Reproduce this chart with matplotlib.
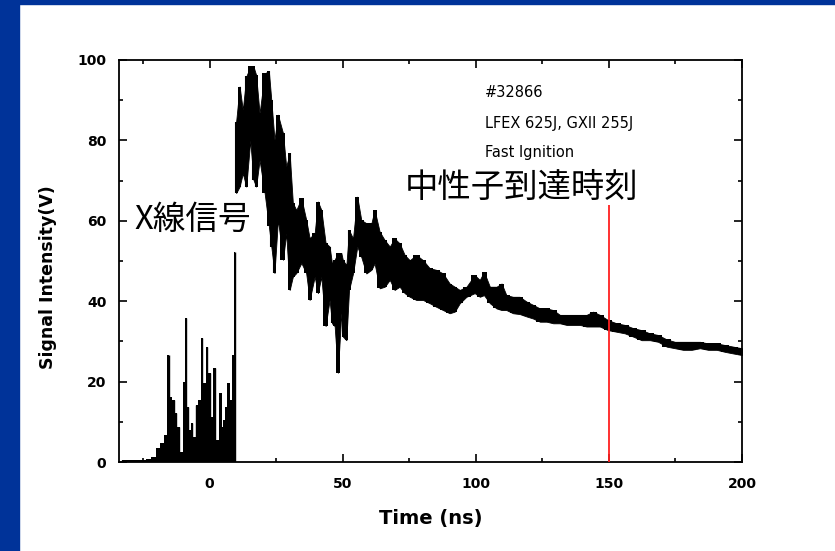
import matplotlib
matplotlib.use('Agg')
import matplotlib.pyplot as plt
from matplotlib.patches import Rectangle
from matplotlib.ticker import MultipleLocator

# pre-pulse (x-ray) spikes, drawn from zero
PRE_T = [-33, -31, -29, -27, -25, -23, -21, -19.5, -18, -16.5, -15.4, -14.8,
         -13.5, -12.5, -11.6, -10.3, -9.4, -8.8, -7.9, -7.2, -6.5, -5.6, -4.9,
         -3.8, -2.7, -1.9, -0.8, 0, 1, 1.9, 3, 4.1, 4.9, 5.6, 6.3, 7.1, 8.1,
         8.8, 9.7]
PRE_V = [0.6, 0.5, 0.6, 0.5, 0.4, 0.8, 1.3, 3.5, 4.7, 6.7, 26.6, 16.2,
         15.4, 12.2, 8.8, 2.6, 20, 35.8, 13.8, 8.0, 9.7, 6.3, 14.2,
         15.4, 30.8, 19.6, 28.7, 22.1, 11.3, 23.4, 5.5, 17.1, 8.8, 10.5, 13.8,
         19.6, 15.4, 26.6, 52.3]

# main signal: time, lower and upper edge of the noisy trace
SIG_T = [10.0, 11.3, 12.5, 13.8, 15.3, 16.5, 17.5, 18.8, 20.7, 22.3, 23.2,
         24.4, 25.7, 27.6, 28.8, 30.1, 31.3, 32.6, 34.5, 36.3, 37.6, 39.5,
         40.7, 42.0, 43.6, 45.1, 46.0, 47.0, 48.2, 49.5, 50.1, 51.4, 52.4,
         53.9, 55.5, 57.0, 58.9, 60.8, 62.0, 63.9, 65.8, 67.7, 69.5, 71.4,
         73.3, 75.2, 77.7, 80.2, 82.7, 85.2, 87.7, 90.2, 92.1, 94.0, 96.5,
         99.6, 101.5, 103.1, 105.3, 107.8, 109.7, 111.5, 114.0, 116.5, 119.1,
         121.5, 124.1, 126.6, 129.1, 131.6, 134.1, 136.6, 139.1, 141.6, 144.1,
         146.6, 149.7, 152.9, 156.0, 159.1, 162.3, 165.4, 168.5, 171.7, 174.8,
         177.9, 181.1, 184.2, 187.3, 190.5, 193.6, 196.7, 200.0]
SIG_LO = [66.9, 68.5, 71.8, 68.5, 80, 70.2, 68.5, 75.1, 66.9, 58.6, 53.6,
          47, 60.3, 50.3, 56.9, 42.8, 46.1, 47, 49.5, 47, 40.3, 46.1,
          42, 46.1, 33.8, 40.3, 34.5, 33.8, 22.2, 37.1, 31.2, 30.3, 42.8,
          46.9, 53.6, 51, 46.9, 47.8, 49.4, 43.2, 43.6, 45.3, 42.8, 43.6,
          42, 41.1, 40.3, 40.3, 39.5, 38.6, 37.8, 37, 37.4, 39.5, 41.1,
          42, 41.1, 41.5, 39.5, 38.2, 37.8, 37.8, 37, 36.8, 36.2,
          35.7, 34.9, 34.9, 34.5, 34.5, 34.1, 34.1, 34.1, 33.7, 33.7,
          33.7, 32.8, 32.4, 32, 31.2, 30.3, 30.3, 29.9, 28.7, 28.3,
          27.9, 27.9, 28.3, 27.9, 27.9, 27.4, 27, 26.6]
SIG_HI = [84.7, 93.4, 87.6, 95.9, 98.4, 98.4, 96.3, 86.7, 96.7, 97.2, 90.1,
          80.2, 86.4, 81.8, 73.5, 76.8, 64.4, 62.7, 65.6, 60.3, 55.7, 56.9,
          64.8, 62.7, 54.5, 53.6, 49.4, 50.3, 52, 52, 50.2, 49, 57.7,
          55.6, 66, 60.2, 59.4, 59.4, 62.7, 57.3, 55.2, 53.6, 55.6, 54.4,
          51.5, 50.2, 51.5, 50.2, 48.2, 47.8, 46.9, 44.4, 43.6, 42.8, 43.6,
          46.5, 45.3, 47.3, 43.6, 43.6, 44.4, 41.5, 41.1, 41.1, 39.9,
          39.1, 38.2, 38.2, 37.8, 36.6, 36.6, 36.6, 36.6, 36.6, 37.4,
          36.6, 35.3, 34.5, 34.1, 33.3, 32.8, 32, 31.6, 30.5, 29.9,
          29.9, 29.9, 29.9, 29.5, 29.5, 29.1, 28.7, 28.3]

NEUTRON_T = 150
NEUTRON_TOP = 64

BLUE = '#003399'
CJK = ['Noto Sans CJK JP', 'DejaVu Sans']

fig = plt.figure(figsize=(8.35, 5.51), dpi=100)
fig.patch.set_facecolor('white')
# slide frame
fig.add_artist(Rectangle((0, 1 - 4 / 551), 1, 4 / 551, transform=fig.transFigure,
                         color=BLUE, zorder=0))
fig.add_artist(Rectangle((0, 0), 19 / 835, 1, transform=fig.transFigure,
                         color=BLUE, zorder=0))

ax = fig.add_axes([119 / 835, 89 / 551, 623 / 835, 402 / 551])

# x-ray part: solid comb of bars
ax.fill_between(PRE_T, 0, PRE_V, step='mid', color='black', lw=0)
ax.vlines(PRE_T, 0, PRE_V, color='black', lw=1.0)

# neutron signal: band between lower and upper edge of the noisy trace
ax.fill_between(SIG_T, SIG_LO, SIG_HI, color='black', lw=0.6, edgecolor='black')
ax.fill_between(SIG_T, SIG_LO, SIG_HI, step='mid', color='black', lw=0)
ax.vlines(SIG_T, SIG_LO, SIG_HI, color='black', lw=1.5)

ax.vlines(NEUTRON_T, 0, NEUTRON_TOP, color='#ff2020', lw=1.3, zorder=3)

ax.set_xlim(-34, 200)
ax.set_ylim(0, 100)
ax.xaxis.set_major_locator(MultipleLocator(50))
ax.xaxis.set_minor_locator(MultipleLocator(25))
ax.yaxis.set_major_locator(MultipleLocator(20))
ax.yaxis.set_minor_locator(MultipleLocator(10))
ax.tick_params(which='both', direction='in', top=True, right=True, width=1.2)
ax.tick_params(which='major', length=6)
ax.tick_params(which='minor', length=3)
ax.tick_params(axis='x', pad=11)
ax.tick_params(axis='y', pad=9)
for lab in ax.get_xticklabels() + ax.get_yticklabels():
    lab.set_fontweight('bold')
    lab.set_fontsize(10)
for sp in ax.spines.values():
    sp.set_linewidth(1.3)

ax.set_xlabel('Time (ns)', fontsize=14, fontweight='bold', labelpad=13)
ax.set_ylabel('Signal Intensity(V)', fontsize=12.5, fontweight='bold')
ax.yaxis.set_label_coords(-0.1, 0.46)

ax.text(103.4, 91.8, '#32866', fontsize=10.5, va='center')
ax.text(103.4, 84.3, 'LFEX 625J, GXII 255J', fontsize=10.5, va='center')
ax.text(103.4, 77.1, 'Fast Ignition', fontsize=10.5, va='center')

ax.text(-28.2, 60.2, 'X線信号', fontsize=23.5, va='center', family=CJK)
ax.text(73.3, 68.2, '中性子到達時刻', fontsize=24, va='center', family=CJK)

fig.savefig('out.png', dpi=100)
